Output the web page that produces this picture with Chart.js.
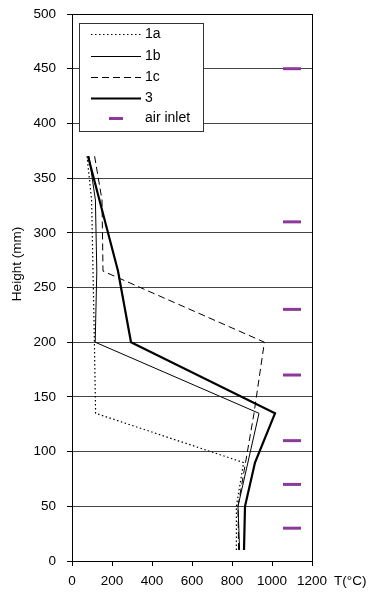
<!DOCTYPE html>
<html>
<head>
<meta charset="utf-8">
<script src="https://cdn.jsdelivr.net/npm/chart.js@4.4.0/dist/chart.umd.min.js"></script>
<style>
  html, body { margin: 0; padding: 0; background: #fff; }
  #wrap { width: 371px; height: 592px; }
</style>
</head>
<body>
<div id="wrap"><canvas id="profileCanvas"></canvas></div>
<script>
// temperature profiles, height in mm / T in °C
const height1a = [10, 50, 90, 135, 200, 330, 370];
const temp1a = [822, 822, 858, 118, 112, 98, 75];

const height1b = [10, 50, 135, 200, 265, 330, 370];
const temp1b = [838, 830, 935, 116, 124, 117, 85];

const height1c = [10, 50, 135, 200, 265, 330, 370];
const temp1c = [833, 830, 910, 962, 155, 150, 113];

const height3 = [10, 50, 90, 135, 200, 265, 370];
const temp3 = [860, 865, 915, 1015, 295, 230, 80];

const inletHeights = [30, 70, 110, 170, 230, 310, 450];
const inletTemp = 1100;

const xTicks = [0, 200, 400, 600, 800, 1000, 1200];
const yTicks = [0, 50, 100, 150, 200, 250, 300, 350, 400, 450, 500];

const FONT = "'Liberation Sans', Arial, sans-serif";
const PURPLE = "#8b3a9c";

const toPoints = (hs, ts) => hs.map((h, i) => ({ x: ts[i], y: h }));

const lineSet = (label, hs, ts, width, dash) => ({
  label: label,
  data: toPoints(hs, ts),
  showLine: true,
  borderColor: "#000",
  backgroundColor: "#000",
  borderWidth: width,
  borderDash: dash,
  pointRadius: 0,
  pointHoverRadius: 0,
  tension: 0,
});

// box around the plot area
const frame = {
  id: "frame",
  afterDraw(chart) {
    const { ctx, chartArea: a } = chart;
    ctx.save();
    ctx.strokeStyle = "#000";
    ctx.lineWidth = 1;
    ctx.strokeRect(Math.round(a.left) + 0.5, Math.round(a.top) + 0.5,
      Math.round(a.right - a.left), Math.round(a.bottom - a.top));
    ctx.restore();
  },
};

// legend box inside the plot, plus the axis captions
const insideLegend = {
  id: "insideLegend",
  afterDraw(chart) {
    const { ctx } = chart;
    const x0 = 79.5, y0 = 23.5, w = 124, h = 108;
    ctx.save();
    ctx.fillStyle = "#fff";
    ctx.fillRect(x0, y0, w, h);
    ctx.strokeStyle = "#333";
    ctx.lineWidth = 1;
    ctx.strokeRect(x0, y0, w, h);

    ctx.font = "14px " + FONT;
    ctx.textBaseline = "middle";
    ctx.textAlign = "left";
    const rowY = [34, 56, 77, 98, 118];
    chart.data.datasets.forEach((ds, i) => {
      const y = Math.round(rowY[i]) + 0.5;
      ctx.beginPath();
      if (ds.showLine) {
        ctx.strokeStyle = ds.borderColor;
        ctx.lineWidth = ds.borderWidth;
        ctx.setLineDash(ds.borderDash || []);
        ctx.moveTo(91, y);
        ctx.lineTo(141, y);
      } else {
        ctx.strokeStyle = ds.pointBorderColor;
        ctx.lineWidth = ds.pointBorderWidth;
        ctx.setLineDash([]);
        ctx.moveTo(109, y);
        ctx.lineTo(123, y);
      }
      ctx.stroke();
      ctx.setLineDash([]);
      ctx.fillStyle = "#000";
      ctx.fillText(ds.label, 145, rowY[i]);
    });

    ctx.font = "13.5px " + FONT;
    ctx.fillText("T(°C)", 334, 581);

    ctx.translate(17, 264);
    ctx.rotate(-Math.PI / 2);
    ctx.textAlign = "center";
    ctx.fillText("Height (mm)", 0, 0);
    ctx.restore();
  },
};

const profileChart = new Chart(document.getElementById("profileCanvas"), {
  type: "scatter",
  data: {
    datasets: [
      lineSet("1a", height1a, temp1a, 1.2, [1.5, 2.5]),
      lineSet("1b", height1b, temp1b, 1, []),
      lineSet("1c", height1c, temp1c, 1, [7, 4]),
      lineSet("3", height3, temp3, 2.2, []),
      {
        label: "air inlet",
        data: inletHeights.map((h) => ({ x: inletTemp, y: h })),
        showLine: false,
        pointStyle: "line",
        pointRadius: 9,
        pointHoverRadius: 9,
        pointBorderWidth: 3,
        pointBorderColor: PURPLE,
        borderColor: PURPLE,
        backgroundColor: PURPLE,
      },
    ],
  },
  options: {
    responsive: true,
    maintainAspectRatio: false,
    animation: false,
    layout: { padding: { top: 14, right: 59, left: 0, bottom: 0 } },
    plugins: {
      legend: { display: false },
      tooltip: { enabled: false },
    },
    scales: {
      x: {
        type: "linear",
        min: 0,
        max: 1200,
        afterBuildTicks: (axis) => { axis.ticks = xTicks.map((v) => ({ value: v })); },
        afterFit: (axis) => { axis.height = 31; },
        ticks: {
          color: "#000",
          font: { family: FONT, size: 13.5 },
          padding: 7,
          maxRotation: 0,
          callback: (v) => String(v),
        },
        grid: { drawOnChartArea: false, drawTicks: true, tickLength: 5, color: "#000" },
        border: { color: "#000", width: 1 },
      },
      y: {
        type: "linear",
        min: 0,
        max: 500,
        afterBuildTicks: (axis) => { axis.ticks = yTicks.map((v) => ({ value: v })); },
        afterFit: (axis) => {
          axis.width = 72;
          axis.paddingTop = 0;
          axis.paddingBottom = 0;
        },
        ticks: { color: "#000", font: { family: FONT, size: 13.5 }, padding: 11, callback: (v) => String(v) },
        grid: { color: "#444", lineWidth: 1, tickLength: 5, tickColor: "#000" },
        border: { color: "#000", width: 1 },
      },
    },
  },
  plugins: [frame, insideLegend],
});
</script>
</body>
</html>
